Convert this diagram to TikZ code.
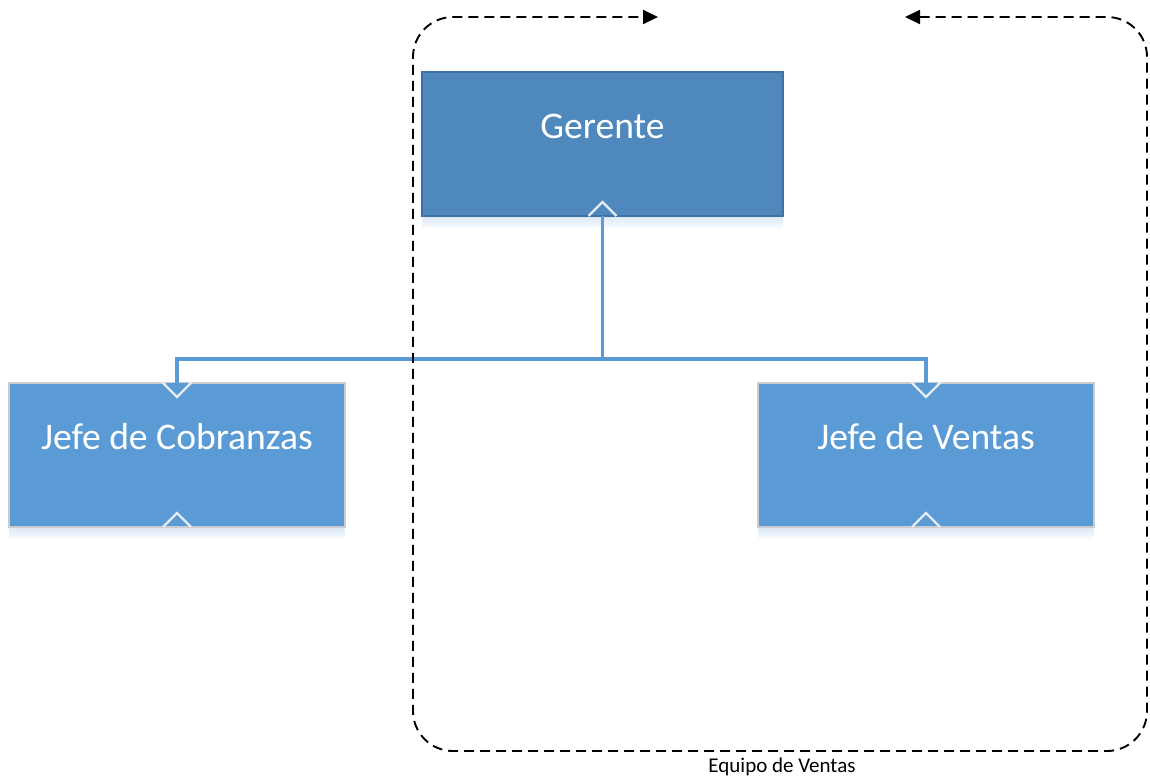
\documentclass[tikz,border=0pt]{standalone}
\usepackage{fontspec}
\setmainfont{Carlito}
\usetikzlibrary{arrows.meta,calc}

\definecolor{mgrfill}{HTML}{4F88BC}
\definecolor{mgrline}{HTML}{41719C}
\definecolor{leadfill}{HTML}{5B9BD5}
\definecolor{leadline}{HTML}{C9CDD2}
\definecolor{notchline}{HTML}{E4ECF4}
\definecolor{linkcol}{HTML}{5B9BD5}
\definecolor{shadecol}{HTML}{9DC3E6}

\tikzset{
  x=1pt, y=-1pt,
  box/.style={rectangle, minimum width=#1, minimum height=144pt, inner sep=0pt, outer sep=0pt},
  mgrbox/.style={box=361pt, fill=mgrfill, draw=mgrline, line width=1.2pt},
  leadbox/.style={box=336pt, fill=leadfill, draw=leadline, line width=1.6pt},
  boxtext/.style={text=white, font=\fontsize{37.6}{44}\selectfont, inner sep=0pt},
  notch/.style={draw=notchline, line width=2.2pt, line join=miter},
  link/.style={draw=linkcol, line width=3.5pt},
  linktip/.style={-{Triangle[length=12pt,width=22pt]}},
  frame/.style={draw=black, line width=1.9pt, dash pattern=on 10pt off 6pt, rounded corners=40pt,
    {Triangle[length=15pt,width=14pt]}-{Triangle[length=15pt,width=14pt]}},
  caption/.style={font=\fontsize{21}{25}\selectfont, inner sep=0pt}
}

\begin{document}
\begin{tikzpicture}
\useasboundingbox (0,0) rectangle (1150,780);

% soft shadows below the boxes
\foreach \k in {3,6,9,12}{
  \fill[shadecol, opacity=0.10] (422,216) rectangle (783,216+\k);
  \fill[shadecol, opacity=0.10] (9,527) rectangle (345,527+\k);
  \fill[shadecol, opacity=0.10] (758,527) rectangle (1094,527+\k);
}

% boxes
\node[mgrbox]  (ger) at (602.5,144) {};
\node[leadbox] (cob) at (177,455) {};
\node[leadbox] (ven) at (926,455) {};

\node[boxtext] (gerT) at ($(ger.center)+(0,-18)$) {Gerente};
\node[boxtext] (cobT) at ($(cob.center)+(0,-18)$) {Jefe de Cobranzas};
\node[boxtext] (venT) at ($(ven.center)+(0,-18)$) {Jefe de Ventas};

% connection notches on the box edges
\draw[notch] ($(ger.south)+(-14,0)$) -- ($(ger.south)+(0,-14)$) -- ($(ger.south)+(14,0)$);
\foreach \b in {cob,ven}{
  \draw[notch] ($(\b.south)+(-14,0)$) -- ($(\b.south)+(0,-14)$) -- ($(\b.south)+(14,0)$);
}

% reporting lines
\coordinate (junc) at ($(ger.south)+(0,143)$);
\coordinate (cobIn) at ($(cob.north)+(0,12)$);
\coordinate (venIn) at ($(ven.north)+(0,12)$);
\draw[link] (ger.south) -- (junc);
\draw[link, linktip] (junc) -| (cobIn);
\draw[link, linktip] (junc) -| (venIn);

\foreach \b in {cob,ven}{
  \draw[notch] ($(\b.north)+(-15,-1)$) -- ($(\b.north)+(0,14)$) -- ($(\b.north)+(15,-1)$);
}

% team boundary
\coordinate (fa) at (905,17);
\coordinate (fb) at (658,17);
\draw[frame] (fa) -- (1147,17) -- (1147,751) -- (413,751) -- (413,17) -- (fb);

\node[caption] (team) at (782,767) {Equipo de Ventas};
\end{tikzpicture}
\end{document}
